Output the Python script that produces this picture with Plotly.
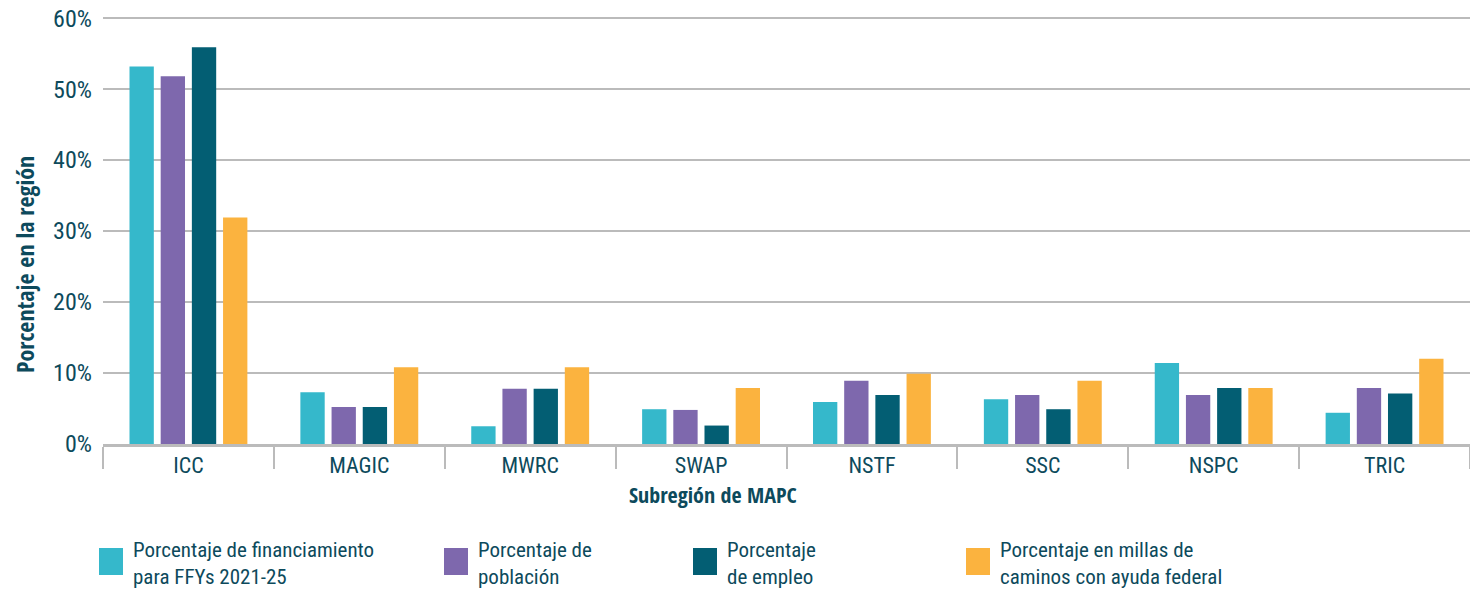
import plotly.graph_objects as go

subregions = ["ICC", "MAGIC", "MWRC", "SWAP", "NSTF", "SSC", "NSPC", "TRIC"]
series_names = [
    "Porcentaje de financiamiento<br>para FFYs 2021-25",
    "Porcentaje de<br>población",
    "Porcentaje<br>de empleo",
    "Porcentaje en millas de<br>caminos con ayuda federal",
]
financiamiento = [53.2, 7.3, 2.5, 4.9, 5.9, 6.3, 11.4, 4.4]
poblacion = [51.8, 5.2, 7.8, 4.8, 8.9, 6.9, 6.9, 7.9]
empleo = [55.9, 5.2, 7.8, 2.6, 6.9, 4.9, 7.9, 7.1]
millas = [31.9, 10.8, 10.8, 7.9, 9.9, 8.9, 7.9, 12.0]
colors = ["#35b8cb", "#7e68ad", "#035e73", "#fbb33f"]

text_color = "#0d4a5c"
font_family = "Roboto Condensed, sans-serif"
bold_family = "Open Sans Condensed, Roboto Condensed, sans-serif"

fig = go.Figure()
for name, vals, col in zip(series_names, [financiamiento, poblacion, empleo, millas], colors):
    fig.add_trace(go.Bar(x=subregions, y=vals, name=name, marker_color=col,
                         marker_line_width=0, showlegend=False))

# page body adds an 8px offset, so margins are shifted to compensate
W, H = 1478, 595
L, R, T, B = 95, 16, 8, 159
pw, ph = W - L - R, H - T - B


def px_x(p):
    # p is a screen pixel position
    return (p - 8 - L) / pw


def px_y(p):
    return (H - B - (p - 8)) / ph


# hand-drawn legend with large swatches
legend_x = [99, 444, 693, 966]
for lx, name, col in zip(legend_x, series_names, colors):
    fig.add_shape(type="rect", xref="paper", yref="paper",
                  x0=px_x(lx), x1=px_x(lx + 24), y0=px_y(548), y1=px_y(575),
                  fillcolor=col, line_width=0)
    fig.add_annotation(xref="paper", yref="paper", x=px_x(lx + 32), y=px_y(563),
                       xanchor="left", yanchor="middle", align="left",
                       text=name, showarrow=False,
                       font=dict(size=21, color=text_color, family=font_family))

# axis titles as annotations (they sit off-centre in the original)
fig.add_annotation(xref="paper", yref="paper", x=px_x(713), y=px_y(494),
                   text="Subregión de MAPC", showarrow=False,
                   xanchor="center", yanchor="middle",
                   font=dict(size=22, color=text_color, family=bold_family))
fig.add_annotation(xref="paper", yref="paper", x=px_x(24), y=px_y(265),
                   text="Porcentaje en la región", showarrow=False, textangle=-90,
                   xanchor="center", yanchor="middle",
                   font=dict(size=24, color=text_color, family=bold_family))

fig.update_layout(
    width=W, height=H,
    margin=dict(l=L, r=R, t=T, b=B, autoexpand=False),
    barmode="group", bargap=0.27, bargroupgap=0.22,
    plot_bgcolor="white", paper_bgcolor="white",
    font=dict(family=font_family, color=text_color, size=21),
)
fig.update_xaxes(
    tickfont=dict(size=22, color=text_color), automargin=False,
    tickson="boundaries", ticks="outside", ticklen=22, tickwidth=2, tickcolor="#bbbbbb",
    showline=True, linecolor="#bbbbbb", linewidth=3,
)
fig.update_yaxes(
    range=[0, 60.3], dtick=10, ticksuffix="%", automargin=False,
    tickfont=dict(size=24, color=text_color), ticklabeloverflow="allow",
    showgrid=True, gridcolor="#bbbbbb", gridwidth=2,
    zeroline=False, ticks="", ticklabelstandoff=10,
)

fig.write_html("out.html")
